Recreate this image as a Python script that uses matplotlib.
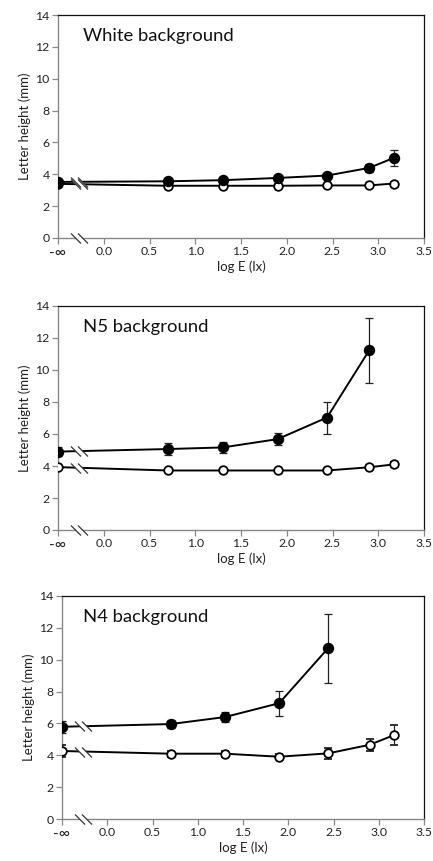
import numpy as np
import matplotlib
matplotlib.use('Agg')
import matplotlib.pyplot as plt
from matplotlib.path import Path

plt.rcParams['font.family'] = ['Lato', 'DejaVu Sans']

# ---------------- data ----------------
x_vals = [-0.5, 0.70, 1.30, 1.90, 2.44, 2.90, 3.17]
xtick_vals = [-0.5, 0.0, 0.5, 1.0, 1.5, 2.0, 2.5, 3.0, 3.5]
xtick_labels = ['-\u221e', '0.0', '0.5', '1.0', '1.5', '2.0', '2.5', '3.0', '3.5']
ytick_vals = [0, 2, 4, 6, 8, 10, 12, 14]

titles = ['White background', 'N5 background', 'N4 background']

white_filled = [3.52, 3.56, 3.63, 3.77, 3.92, 4.40, 5.03]
white_filled_err = [0.15, 0.12, 0.12, 0.12, 0.12, 0.25, 0.52]
white_open = [3.40, 3.28, 3.28, 3.28, 3.30, 3.30, 3.42]
white_open_err = [0.10, 0.08, 0.08, 0.08, 0.08, 0.08, 0.10]

n5_filled = [4.90, 5.06, 5.16, 5.68, 7.03, 11.22]
n5_filled_err = [0.28, 0.35, 0.35, 0.38, 1.00, 2.05]
n5_open = [3.93, 3.72, 3.72, 3.72, 3.72, 3.92, 4.10]
n5_open_err = [0.12, 0.08, 0.08, 0.08, 0.08, 0.10, 0.12]

n4_filled = [5.79, 5.96, 6.40, 7.27, 10.72]
n4_filled_err = [0.38, 0.25, 0.30, 0.78, 2.17]
n4_open = [4.27, 4.10, 4.10, 3.91, 4.12, 4.66, 5.27]
n4_open_err = [0.37, 0.20, 0.20, 0.15, 0.35, 0.38, 0.60]

panels = [
    (white_filled, white_filled_err, white_open, white_open_err),
    (n5_filled, n5_filled_err, n5_open, n5_open_err),
    (n4_filled, n4_filled_err, n4_open, n4_open_err),
]

# axes rectangles [left, bottom, width, height] in figure fraction
rects = [
    [58 / 433, 1 - 238 / 861, 366 / 433, 223 / 861],
    [58 / 433, 1 - 530 / 861, 366 / 433, 224 / 861],
    [62 / 433, 1 - 819 / 861, 362 / 433, 223 / 861],
]

x_break = -0.27

# break markers ("\\" with white gap)
slash_verts = [(-8.5, 5), (1.5, -5), (-1.5, 5), (8.5, -5)]
slash_codes = [Path.MOVETO, Path.LINETO, Path.MOVETO, Path.LINETO]
slash_path = Path(slash_verts, slash_codes)
gap_verts = [(-8.5, 5), (-1.5, 5), (8.5, -5), (1.5, -5), (-8.5, 5)]
gap_codes = [Path.MOVETO, Path.LINETO, Path.LINETO, Path.LINETO, Path.CLOSEPOLY]
gap_path = Path(gap_verts, gap_codes)
brk_ms = 17 * 72 / 100


def draw_break(ax, x, y, clip=True, color='#333333'):
    ax.plot([x], [y], linestyle='none', marker=gap_path, markersize=brk_ms,
            markerfacecolor='white', markeredgewidth=0, zorder=6, clip_on=clip)
    ax.plot([x], [y], linestyle='none', marker=slash_path, markersize=brk_ms,
            markerfacecolor='none', markeredgecolor=color, markeredgewidth=0.9,
            zorder=7, clip_on=clip)


fig = plt.figure(figsize=(4.33, 8.61), dpi=100)

for i, (filled, ferr, opn, oerr) in enumerate(panels):
    ax = fig.add_axes(rects[i])
    xf = x_vals[:len(filled)]
    xo = x_vals[:len(opn)]

    ax.errorbar(xo, opn, yerr=oerr, color='black', lw=1.4,
                ecolor='#222222', elinewidth=0.9, capsize=2.6, capthick=0.9,
                marker='o', markersize=6.2, markerfacecolor='white',
                markeredgecolor='black', markeredgewidth=1.3, zorder=3)
    ax.errorbar(xf, filled, yerr=ferr, color='black', lw=1.4,
                ecolor='#222222', elinewidth=0.9, capsize=2.6, capthick=0.9,
                marker='o', markersize=7.2, markerfacecolor='black',
                markeredgecolor='black', zorder=4)

    draw_break(ax, x_break, np.interp(x_break, xf[:2], filled[:2]))
    draw_break(ax, x_break, np.interp(x_break, xo[:2], opn[:2]))
    draw_break(ax, x_break, 0, clip=False)

    ax.set_xlim(-0.5, 3.5)
    ax.set_ylim(0, 14)
    ax.set_xticks(xtick_vals)
    ax.set_xticklabels(xtick_labels)
    ax.set_yticks(ytick_vals)
    ax.tick_params(direction='out', length=4, width=0.9, color='#888888',
                   labelsize=8.8, labelcolor='#222222', pad=2)
    ax.get_xticklabels()[0].set_fontsize(11)

    for side in ['left', 'bottom']:
        ax.spines[side].set_color('#888888')
        ax.spines[side].set_linewidth(1.0)
    for side in ['top', 'right']:
        ax.spines[side].set_color('#111111')
        ax.spines[side].set_linewidth(0.9)

    ax.set_xlabel('log E (lx)', fontsize=9.5, color='#222222', labelpad=0)
    ax.set_ylabel('Letter height (mm)', fontsize=9.5, color='#222222', labelpad=3)

    tx = (83 - rects[i][0] * 433) / (rects[i][2] * 433)
    ax.text(tx, 0.905, titles[i], transform=ax.transAxes, fontsize=13.3,
            ha='left', va='center', color='#111111')

fig.savefig('out.png', dpi=100)
